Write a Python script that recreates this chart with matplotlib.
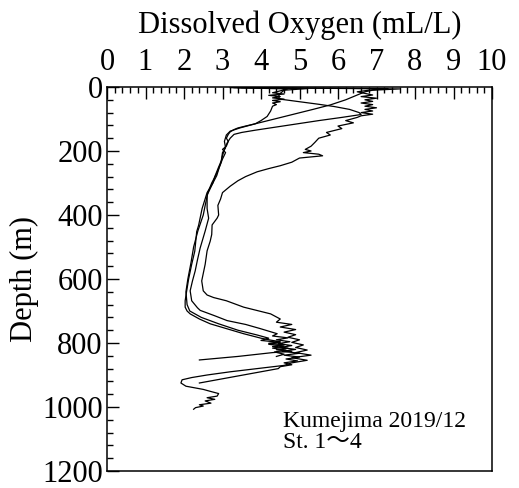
import matplotlib
matplotlib.use("Agg")
import matplotlib.pyplot as plt
from matplotlib.ticker import MultipleLocator

plt.rcParams['font.family'] = ['Liberation Serif', 'Noto Sans CJK JP']

# === data: depth (m) / dissolved oxygen (mL/L) ===
depth_1 = [2, 5, 10, 15, 20, 25, 30, 35, 40, 45, 50, 55, 60, 65, 70, 75, 80, 85, 90,
           95, 105, 112, 122, 130, 142, 150, 160, 173, 185, 195, 200, 205, 210, 215,
           222, 235, 246, 255, 265, 280, 293, 310, 330, 350, 370, 400, 410, 431, 461,
           482, 512, 554, 606, 637, 650, 658, 668, 688, 709, 725, 735, 742, 750, 758,
           766, 774, 782, 790, 798, 806, 814, 822, 830, 838, 846, 854, 862, 870, 880,
           890, 900, 908, 915, 925, 935, 945, 951, 958, 966, 971, 976, 981, 988, 993,
           997, 1002, 1007]
do_1 = [3.3, 7.3, 6.8, 6.5, 6.7, 6.9, 6.6, 7.0, 6.7, 6.9, 6.6, 6.9, 6.7, 7.0, 6.7, 6.9,
        6.6, 6.9, 6.6, 6.5, 6.2, 6.4, 6.0, 6.1, 5.7, 5.8, 5.5, 5.4, 5.3, 5.15, 5.3, 5.1,
        5.5, 5.6, 5.0, 4.8, 4.5, 4.2, 3.9, 3.6, 3.4, 3.2, 3.0, 2.95, 2.88, 2.9, 2.86,
        2.73, 2.72, 2.68, 2.6, 2.55, 2.46, 2.5, 2.6, 2.77, 3.1, 3.55, 4.25, 4.5, 4.4,
        4.8, 4.5, 4.9, 4.6, 4.9, 4.7, 5.0, 4.8, 5.1, 4.9, 5.2, 4.9, 5.3, 4.8, 5.2, 4.8,
        4.6, 3.9, 3.2, 2.6, 2.2, 1.95, 1.92, 2.05, 2.5, 2.68, 2.9, 2.86, 2.6, 2.8, 2.55,
        2.7, 2.4, 2.5, 2.3, 2.25]

depth_2 = [2, 6, 12, 18, 22, 26, 30, 34, 38, 42, 46, 50, 55, 60, 75, 92, 105, 115, 122,
           128, 133, 140, 148, 160, 170, 185, 195, 205, 225, 250, 277, 300, 330, 380,
           432, 452, 513, 554, 600, 637, 668, 688, 700, 709, 725, 740, 755, 771, 785,
           791, 796, 801, 806, 811, 816, 821, 826, 830, 842, 853]
do_2 = [3.2, 4.7, 4.5, 4.3, 4.6, 4.2, 4.5, 4.3, 4.6, 4.3, 4.5, 4.3, 4.4, 4.3, 4.25, 4.16,
        4.0, 3.85, 3.6, 3.4, 3.3, 3.2, 3.15, 3.1, 3.15, 3.1, 3.0, 3.08, 3.0, 2.92, 2.85,
        2.75, 2.6, 2.47, 2.38, 2.33, 2.28, 2.2, 2.12, 2.07, 2.03, 2.03, 2.08, 2.16, 2.4,
        2.68, 3.1, 3.55, 4.0, 4.25, 4.5, 4.2, 4.6, 4.3, 4.7, 4.4, 4.8, 4.3, 3.4, 2.4]

depth_3 = [2, 6, 10, 15, 20, 30, 40, 48, 56, 70, 85, 100, 115, 128, 138, 150, 170, 190,
           205, 230, 250, 280, 300, 338, 349, 380, 410, 450, 503, 540, 575, 606, 637,
           668, 690, 698, 715, 730, 742, 755, 771, 778, 784, 790, 796, 802, 808, 814,
           820, 826, 832, 838, 844, 850, 856, 862, 868, 874, 880, 925]
do_3 = [3.5, 7.6, 6.9, 6.7, 6.6, 6.4, 6.2, 6.0, 5.8, 5.35, 4.85, 4.35, 3.85, 3.45, 3.2,
        3.1, 3.05, 3.08, 3.0, 2.97, 2.9, 2.8, 2.75, 2.6, 2.6, 2.6, 2.64, 2.55, 2.42,
        2.35, 2.29, 2.22, 2.16, 2.2, 2.35, 2.42, 2.8, 3.12, 3.6, 3.98, 4.42, 4.3, 4.7,
        4.4, 4.75, 4.45, 4.8, 4.5, 4.9, 4.55, 5.0, 4.6, 5.0, 4.65, 4.95, 4.6, 4.8, 4.5,
        4.45, 2.4]

depth_4 = [2, 5, 10, 20, 30, 38, 46, 54, 61, 70, 80, 86, 95, 105, 115, 125, 135, 142,
           148, 160, 175, 195, 215, 240, 270, 300, 330, 370, 400, 450, 500, 550, 600,
           640, 680, 700, 720, 740, 760, 775, 785, 792, 798, 804, 810, 816, 822, 828,
           835, 842]
do_4 = [3.4, 5.2, 4.6, 4.5, 4.45, 4.5, 5.0, 5.5, 5.9, 6.3, 6.55, 6.6, 6.1, 5.5, 4.95,
        4.4, 3.85, 3.5, 3.3, 3.2, 3.12, 3.05, 3.0, 2.95, 2.85, 2.72, 2.62, 2.55, 2.5,
        2.36, 2.25, 2.18, 2.1, 2.05, 2.08, 2.15, 2.45, 2.9, 3.4, 3.9, 4.2, 4.0, 4.5,
        4.2, 4.6, 4.3, 4.65, 4.35, 4.6, 4.4]

profiles = [(do_1, depth_1), (do_2, depth_2), (do_3, depth_3), (do_4, depth_4)]

# === figure ===
fig = plt.figure(figsize=(5.19, 4.88), dpi=100)
ax = fig.add_axes([107 / 519, 1 - 471 / 488, 385 / 519, 384 / 488])

for do, dep in profiles:
    ax.plot(do, dep, color='black', lw=0.9)

ax.set_xlim(0, 10)
ax.set_ylim(1200, 0)
ax.xaxis.set_major_locator(MultipleLocator(1))
ax.xaxis.set_minor_locator(MultipleLocator(0.2))
ax.yaxis.set_major_locator(MultipleLocator(200))
ax.yaxis.set_minor_locator(MultipleLocator(40))
ax.xaxis.tick_top()
ax.xaxis.set_label_position('top')
ax.tick_params(which='both', direction='in', top=True, bottom=False,
               left=True, right=False, width=1.0, labelsize=22, colors='black')
ax.tick_params(axis='x', which='major', length=8.5, pad=7)
ax.tick_params(axis='x', which='minor', length=4)
ax.tick_params(axis='y', which='major', length=8.5, pad=3)
ax.tick_params(axis='y', which='minor', length=4)
for s in ax.spines.values():
    s.set_linewidth(1.1)

ax.set_xlabel('Dissolved Oxygen (mL/L)', fontsize=22, labelpad=11)
ax.set_ylabel('Depth (m)', fontsize=22, labelpad=2)

ax.text(4.58, 1079, 'Kumejima 2019/12\nSt. 1\u301c4', fontsize=17,
        ha='left', va='center', linespacing=1.0)

fig.savefig('out.png', dpi=100)
